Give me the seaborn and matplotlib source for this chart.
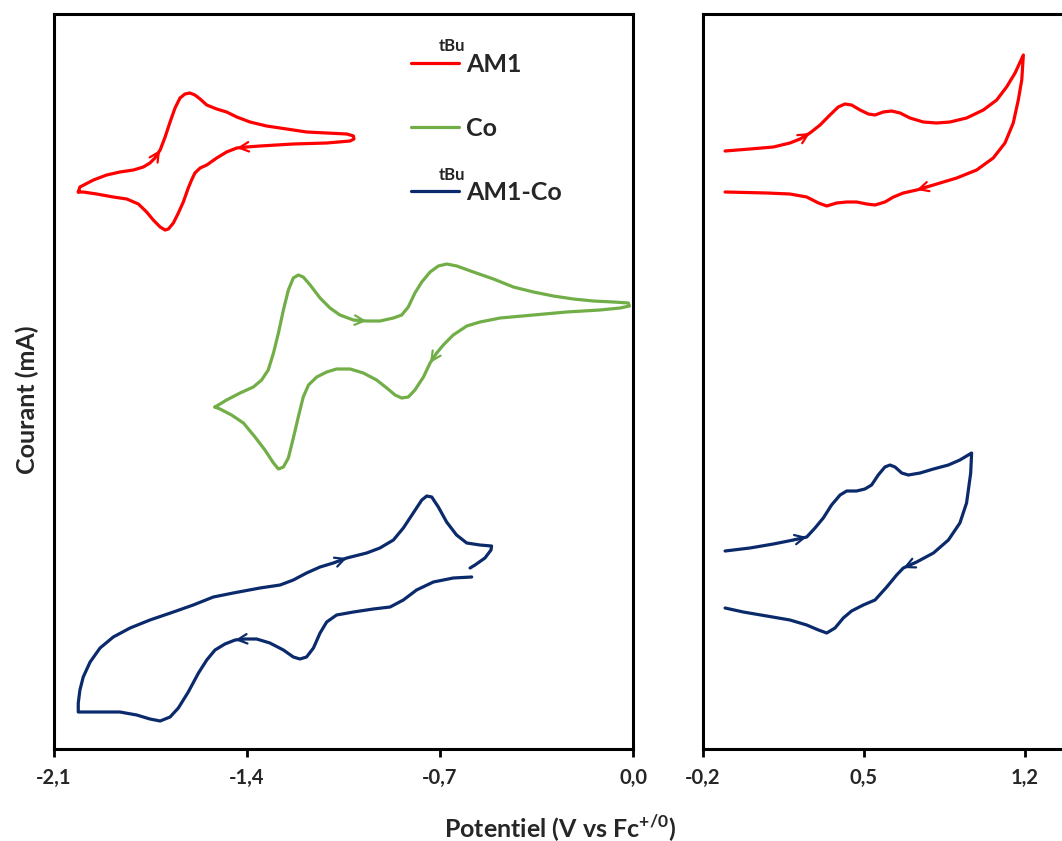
import numpy as np
import pandas as pd
import seaborn as sns
import matplotlib.pyplot as plt
from matplotlib.lines import Line2D

# Cyclic voltammograms: potential in V vs Fc+/0, current in arbitrary (offset) units
am1_x = [-2.012, -2.006, -1.957, -1.909, -1.861, -1.812, -1.776, -1.752, -1.734, -1.715,
         -1.697, -1.679, -1.661, -1.643, -1.625, -1.607, -1.589, -1.570, -1.546, -1.510,
         -1.474, -1.437, -1.389, -1.329, -1.256, -1.184, -1.111, -1.038, -1.014, -1.012,
         -1.026, -1.111, -1.232, -1.353, -1.401, -1.437, -1.474, -1.510, -1.546, -1.570,
         -1.589, -1.601, -1.613, -1.631, -1.649, -1.667, -1.685, -1.697, -1.715, -1.740,
         -1.764, -1.794, -1.836, -1.885, -1.945, -1.994, -2.012]
am1_y = [5.57, 5.62, 5.69, 5.74, 5.77, 5.79, 5.82, 5.86, 5.91, 5.99,
         6.12, 6.27, 6.41, 6.51, 6.55, 6.56, 6.54, 6.50, 6.44, 6.40,
         6.37, 6.32, 6.27, 6.23, 6.20, 6.17, 6.16, 6.15, 6.13, 6.10,
         6.08, 6.06, 6.05, 6.03, 6.02, 6.01, 5.97, 5.91, 5.84, 5.81,
         5.76, 5.69, 5.61, 5.47, 5.36, 5.26, 5.20, 5.19, 5.22, 5.29,
         5.37, 5.45, 5.50, 5.52, 5.55, 5.57, 5.57]

co_x = [-1.516, -1.474, -1.425, -1.377, -1.347, -1.323, -1.304, -1.286, -1.268, -1.250,
        -1.232, -1.214, -1.196, -1.171, -1.135, -1.099, -1.063, -1.014, -0.966, -0.918,
        -0.869, -0.839, -0.815, -0.791, -0.766, -0.736, -0.706, -0.676, -0.639, -0.579,
        -0.506, -0.434, -0.361, -0.289, -0.216, -0.144, -0.071, -0.017, -0.013, -0.047,
        -0.120, -0.241, -0.361, -0.482, -0.555, -0.603, -0.652, -0.688, -0.712, -0.736,
        -0.760, -0.791, -0.815, -0.839, -0.863, -0.893, -0.930, -0.978, -1.026, -1.075,
        -1.111, -1.147, -1.177, -1.196, -1.214, -1.232, -1.250, -1.268, -1.286, -1.304,
        -1.335, -1.371, -1.413, -1.456, -1.498, -1.516]
co_y = [3.42, 3.49, 3.56, 3.62, 3.69, 3.79, 3.96, 4.16, 4.39, 4.59,
        4.71, 4.74, 4.72, 4.64, 4.51, 4.41, 4.34, 4.29, 4.28, 4.28,
        4.31, 4.34, 4.42, 4.56, 4.67, 4.77, 4.83, 4.85, 4.83, 4.77,
        4.70, 4.62, 4.57, 4.53, 4.50, 4.48, 4.47, 4.46, 4.43, 4.41,
        4.39, 4.37, 4.34, 4.31, 4.27, 4.23, 4.14, 4.04, 3.96, 3.86,
        3.72, 3.59, 3.52, 3.51, 3.54, 3.61, 3.69, 3.76, 3.80, 3.80,
        3.77, 3.72, 3.64, 3.52, 3.32, 3.11, 2.91, 2.82, 2.80, 2.86,
        2.99, 3.12, 3.26, 3.34, 3.40, 3.42]

am1co_x = [-0.585, -0.652, -0.724, -0.785, -0.833, -0.881, -0.942, -1.014, -1.075, -1.111,
           -1.135, -1.159, -1.184, -1.208, -1.232, -1.268, -1.317, -1.365, -1.407, -1.443,
           -1.480, -1.516, -1.546, -1.576, -1.613, -1.649, -1.679, -1.715, -1.752, -1.800,
           -1.861, -1.933, -2.012, -2.012, -2.006, -1.994, -1.969, -1.933, -1.885, -1.824,
           -1.752, -1.667, -1.595, -1.522, -1.450, -1.353, -1.280, -1.232, -1.184, -1.135,
           -1.087, -1.038, -0.966, -0.918, -0.869, -0.833, -0.797, -0.766, -0.748, -0.730,
           -0.706, -0.676, -0.640, -0.603, -0.555, -0.513, -0.515, -0.537, -0.573, -0.591]
am1co_y = [1.72, 1.71, 1.67, 1.59, 1.49, 1.42, 1.40, 1.37, 1.34, 1.27,
           1.16, 1.01, 0.92, 0.90, 0.92, 0.99, 1.06, 1.10, 1.10, 1.09,
           1.05, 0.99, 0.89, 0.76, 0.57, 0.41, 0.32, 0.28, 0.30, 0.34,
           0.37, 0.37, 0.37, 0.46, 0.59, 0.72, 0.87, 1.01, 1.12, 1.21,
           1.29, 1.37, 1.44, 1.52, 1.56, 1.61, 1.64, 1.69, 1.76, 1.82,
           1.86, 1.91, 1.96, 2.01, 2.09, 2.21, 2.36, 2.49, 2.53, 2.52,
           2.42, 2.27, 2.14, 2.06, 2.04, 2.03, 1.99, 1.91, 1.84, 1.81]

# oxidative window (right panel)
am1_ox_x = [-0.104, 0.004, 0.106, 0.178, 0.222, 0.265, 0.309, 0.352, 0.388, 0.417,
            0.446, 0.483, 0.519, 0.548, 0.584, 0.620, 0.657, 0.700, 0.758, 0.816,
            0.874, 0.946, 1.019, 1.077, 1.120, 1.157, 1.193, 1.186, 1.171, 1.149,
            1.113, 1.062, 0.990, 0.903, 0.802, 0.729, 0.671, 0.628, 0.591, 0.548,
            0.512, 0.468, 0.425, 0.381, 0.338, 0.302, 0.251, 0.178, 0.077, -0.104]
am1_ox_y = [5.98, 6.00, 6.02, 6.06, 6.10, 6.16, 6.24, 6.34, 6.42, 6.45,
            6.44, 6.39, 6.35, 6.34, 6.37, 6.38, 6.36, 6.31, 6.27, 6.26,
            6.27, 6.31, 6.39, 6.49, 6.62, 6.76, 6.94, 6.69, 6.49, 6.26,
            6.06, 5.91, 5.79, 5.71, 5.64, 5.59, 5.56, 5.52, 5.47, 5.44,
            5.45, 5.47, 5.47, 5.46, 5.43, 5.46, 5.52, 5.55, 5.56, 5.57]

am1co_ox_x = [-0.104, 0.004, 0.106, 0.193, 0.251, 0.287, 0.323, 0.359, 0.396, 0.425,
              0.468, 0.504, 0.533, 0.562, 0.591, 0.613, 0.635, 0.664, 0.693, 0.744,
              0.802, 0.867, 0.917, 0.968, 0.964, 0.946, 0.917, 0.867, 0.802, 0.729,
              0.671, 0.642, 0.599, 0.548, 0.497, 0.446, 0.410, 0.374, 0.338, 0.302,
              0.251, 0.178, 0.077, -0.025, -0.104]
am1co_ox_y = [1.98, 2.01, 2.05, 2.09, 2.12, 2.21, 2.31, 2.44, 2.54, 2.58,
              2.58, 2.60, 2.64, 2.74, 2.82, 2.84, 2.82, 2.76, 2.74, 2.76,
              2.80, 2.84, 2.89, 2.96, 2.76, 2.46, 2.26, 2.09, 1.96, 1.87,
              1.81, 1.74, 1.62, 1.49, 1.44, 1.38, 1.31, 1.21, 1.16, 1.19,
              1.24, 1.29, 1.33, 1.37, 1.41]

# scan-direction arrows: (tail index, head index) along each curve
am1_arrows = [(8, 9), (34, 35)]
co_arrows = [(17, 18), (48, 49)]
am1co_arrows = [(50, 51), (18, 19)]
am1_ox_arrows = [(4, 5), (34, 35)]
am1co_ox_arrows = [(3, 4), (29, 30)]

legend_labels = ['AM1', 'Co', 'AM1-Co']
legend_prefix = ['tBu', '', 'tBu']

red = '#FF0000'
green = '#72AE48'
navy = '#0B2A6B'

sns.set_style('white')
plt.rcParams['font.family'] = ['Lato', 'DejaVu Sans']
plt.rcParams['font.weight'] = 'bold'
plt.rcParams['mathtext.fontset'] = 'custom'
plt.rcParams['mathtext.bf'] = 'Lato:bold'
plt.rcParams['mathtext.rm'] = 'Lato:bold'

fig = plt.figure(figsize=(10.62, 8.41), dpi=100)
ax1 = fig.add_axes([54 / 1062, 1 - 749 / 841, 579 / 1062, 735 / 841])
ax2 = fig.add_axes([703 / 1062, 1 - 749 / 841, 359 / 1062, 735 / 841])


def draw_cv(ax, xs, ys, color, arrows):
    df = pd.DataFrame({'E': xs, 'I': ys})
    sns.lineplot(data=df, x='E', y='I', sort=False, estimator=None, color=color,
                 lw=2.3, ax=ax, legend=False, solid_joinstyle='round',
                 solid_capstyle='round')
    for t, h in arrows:
        ax.annotate('', xy=(xs[h], ys[h]), xytext=(xs[t], ys[t]),
                    arrowprops=dict(arrowstyle='->', color=color, lw=1.6,
                                    mutation_scale=17, shrinkA=0, shrinkB=0))


draw_cv(ax1, am1_x, am1_y, red, am1_arrows)
draw_cv(ax1, co_x, co_y, green, co_arrows)
draw_cv(ax1, am1co_x, am1co_y, navy, am1co_arrows)
draw_cv(ax2, am1_ox_x, am1_ox_y, red, am1_ox_arrows)
draw_cv(ax2, am1co_ox_x, am1co_ox_y, navy, am1co_ox_arrows)

ax1.set_xlim(-2.1, 0.0)
ax2.set_xlim(-0.2, 1.361)
for ax in (ax1, ax2):
    ax.set_ylim(0, 7.35)
    ax.set_yticks([])
    ax.set_xlabel('')
    ax.set_ylabel('')
    for s in ax.spines.values():
        s.set_color('black')
        s.set_linewidth(2.2)
    ax.tick_params(axis='x', direction='out', length=6, width=2, color='black',
                   labelsize=14.5, pad=8, bottom=True)
ax2.spines['right'].set_visible(False)

ax1.set_xticks([-2.1, -1.4, -0.7, 0.0])
ax1.set_xticklabels(['-2,1', '-1,4', '-0,7', '0,0'], fontweight='bold')
ax2.set_xticks([-0.2, 0.5, 1.2])
ax2.set_xticklabels(['-0,2', '0,5', '1,2'], fontweight='bold')

handles = [Line2D([], [], color=c, lw=2.3) for c in (red, green, navy)]
leg = ax1.legend(handles, legend_labels, loc='upper left',
                 bbox_to_anchor=(0.578, 0.978), frameon=False, labelspacing=1.65,
                 handlelength=1.9, handletextpad=0.3,
                 prop={'weight': 'bold', 'size': 18})
# small "tBu" prefix sitting above the start of the label (drawn after the legend)
for txt, pre in zip(leg.get_texts(), legend_prefix):
    if pre:
        ax1.annotate(pre, xy=(0, 1), xycoords=txt, xytext=(-20, -1),
                     textcoords='offset points', fontsize=12, fontweight='bold',
                     va='bottom', ha='left', zorder=10)

fig.text(560 / 1062, 4 / 841, r'Potentiel (V vs Fc$^{\mathbf{+/0}}$)', ha='center',
         va='baseline', fontsize=18, fontweight='bold')
fig.text(27 / 1062, 1 - 400 / 841, 'Courant (mA)', rotation=90, ha='center',
         va='center', fontsize=18, fontweight='bold')

fig.savefig('out.png', dpi=100)
